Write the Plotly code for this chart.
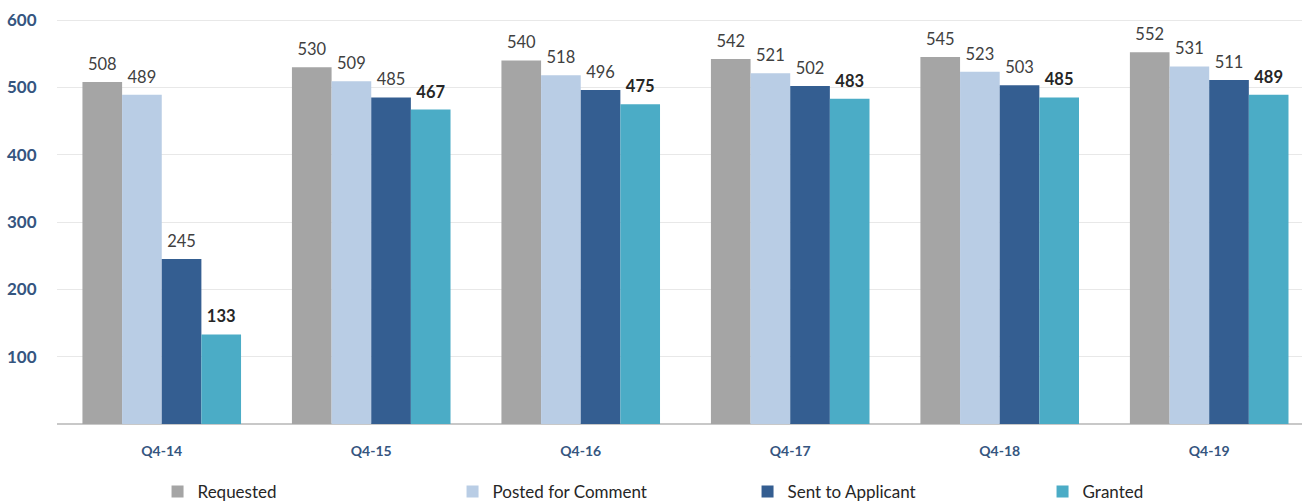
import plotly.graph_objects as go

# Quarter categories and counts per stage
quarters = ["Q4-14", "Q4-15", "Q4-16", "Q4-17", "Q4-18", "Q4-19"]
requested = [508, 530, 540, 542, 545, 552]
posted = [489, 509, 518, 521, 523, 531]
sent = [245, 485, 496, 502, 503, 511]
granted = [133, 467, 475, 483, 485, 489]

series = [
    ("Requested", requested, "#a5a5a5", False),
    ("Posted for Comment", posted, "#b9cde5", False),
    ("Sent to Applicant", sent, "#345e91", False),
    ("Granted", granted, "#4bacc6", True),
]

GAP = 0.243
AXIS_BLUE = "#35557f"
FONT = "Lato"

fig = go.Figure()

for name, vals, color, bold in series:
    fig.add_trace(go.Bar(
        name=name, x=quarters, y=vals,
        marker=dict(color=color, line=dict(width=0)),
        hoverinfo="x+y+name",
    ))

# value labels, grouped the same way as the bars and lifted slightly above them
for name, vals, color, bold in series:
    fig.add_trace(go.Scatter(
        x=quarters, y=vals, mode="markers+text", orientation="v",
        text=[str(v) for v in vals], textposition="top center",
        textfont=dict(family=FONT, size=16.5,
                      color="#262626" if bold else "#404040",
                      weight="bold" if bold else "normal"),
        marker=dict(size=11, opacity=0),
        showlegend=False, hoverinfo="skip",
    ))

fig.update_layout(
    width=1302, height=502,
    margin=dict(l=57, r=0, t=0, b=78),
    paper_bgcolor="white", plot_bgcolor="white",
    barmode="group", bargap=GAP, bargroupgap=0,
    scattermode="group", scattergap=GAP,
    showlegend=True,
    legend=dict(
        orientation="h", xref="container", yref="container",
        x=0.121, y=0.02, xanchor="left", yanchor="middle",
        entrywidth=250, entrywidthmode="pixels",
        font=dict(family=FONT, size=17, color="#262626"),
        traceorder="normal", itemwidth=30,
    ),
    xaxis=dict(
        range=[-0.5, 5.443], showgrid=False,
        tickfont=dict(family=FONT, size=14, color=AXIS_BLUE, weight="bold"),
        ticks="outside", ticklen=14, tickcolor="rgba(0,0,0,0)",
        showline=False,
    ),
    yaxis=dict(
        range=[0, 629.7], tickvals=[100, 200, 300, 400, 500, 600],
        showgrid=True, gridcolor="#e8e8e8", gridwidth=1,
        zeroline=True, zerolinecolor="#c8c8c8", zerolinewidth=1.5,
        tickfont=dict(family=FONT, size=17, color=AXIS_BLUE, weight="bold"),
        ticks="outside", ticklen=16, tickcolor="rgba(0,0,0,0)",
        showline=False,
    ),
)

fig.write_html("out.html")
